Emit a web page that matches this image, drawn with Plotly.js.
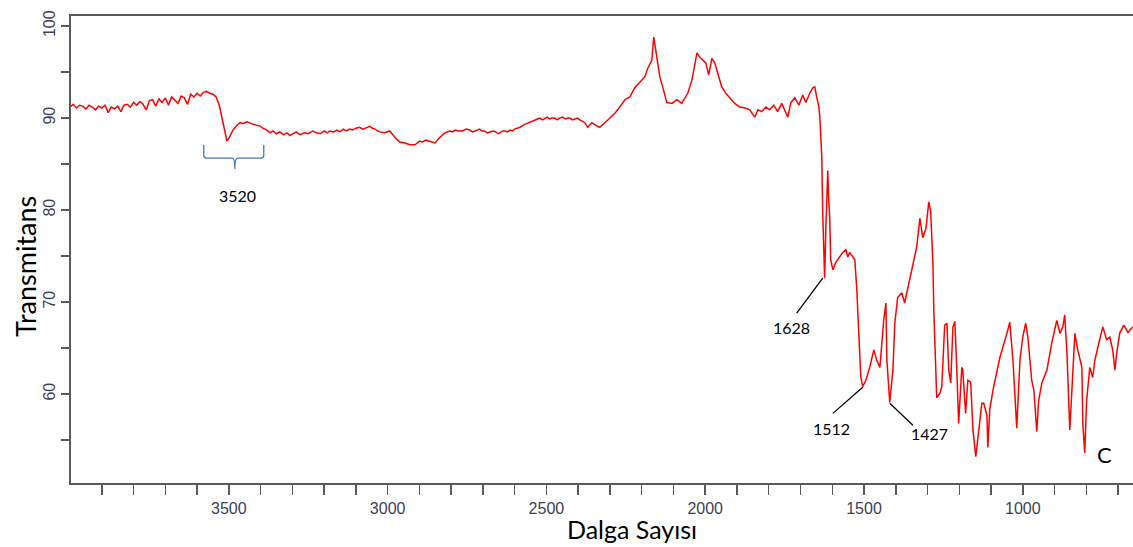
<!DOCTYPE html>
<html>
<head>
<meta charset="utf-8">
<script src="https://cdn.plot.ly/plotly-3.0.1.min.js"></script>
<style>html,body{margin:0;padding:0;background:#fff;}#chart{width:1133px;height:547px;}</style>
</head>
<body>
<div id="chart"></div>
<script>
// Wavenumber (cm-1)
const wavenumber = [
4000,3990,3980,3970,3960,3950,3940,3930,3920,3910,3900,3890,3880,3870,3860,3850,3840,3830,3820,3810,
3800,3790,3780,3770,3760,3750,3740,3730,3720,3710,3700,3690,3680,3670,3660,3650,3640,3630,3620,3610,
3600,3590,3580,3570,3560,3550,3540,3530,3520,3513,3506,3500,3495,3487,3475,3465,3455,3443,3430,3412,
3400,3393,3380,3370,3361,3350,3340,3328,3317,3308,3300,3288,3276,3262,3250,3236,3223,3212,3200,3190,
3182,3170,3160,3150,3140,3130,3120,3110,3100,3088,3078,3070,3056,3048,3040,3025,3009,2993,2977,2962,
2946,2930,2914,2899,2890,2880,2867,2851,2836,2820,2805,2795,2788,2776,2765,2752,2741,2733,2725,2717,
2710,2703,2695,2686,2678,2668,2660,2652,2646,2638,2630,2622,2615,2607,2600,2592,2583,2570,2552,2545,
2535,2528,2521,2512,2505,2497,2490,2482,2475,2466,2458,2450,2440,2433,2426,2418,2410,2403,2395,2379,
2370,2357,2344,2332,2316,2300,2285,2269,2253,2237,2222,2206,2190,2181,2175,2168,2162,2156,2150,
2143,2134,2121,2105,2089,2074,2055,2042,2033,2026,2017,2008,1998,1989,1979,1970,1960,1948,1935,1923,
1907,1891,1875,1860,1844,1834,1822,1809,1797,1784,1772,1759,1746,1740,1730,1718,1705,1693,1683,1671,
1661,1655,1649,1642,1639,1633,1630,1627,1624,1620,1617,1614,1611,1608,1605,1598,1589,1576,1567,1557,
1551,1545,1535,1529,1523,1516,1510,1504,1494,1482,1469,1460,1450,1438,1431,1428,1422,1419,1409,1403,
1394,1381,1372,1356,1334,1324,1315,1305,1296,1290,1283,1280,1274,1271,1261,1255,1246,1239,1233,1227,
1220,1214,1208,1202,1192,1189,1180,1173,1164,1157,1148,1142,1129,1123,1113,1110,1104,1094,1072,1050,
1041,1031,1019,1009,1000,991,984,972,965,956,950,940,924,909,899,893,883,874,868,861,
852,843,836,827,814,811,805,799,789,780,773,758,748,736,726,717,710,704,695,682,
669,654
];
// Transmittance (%)
const transmittance = [
91.2,91.5,91.1,91.4,91.3,91.0,91.4,91.2,90.9,91.3,91.1,91.4,90.6,91.2,91.0,91.3,90.7,91.4,91.5,91.2,
91.7,91.4,91.8,91.5,90.9,91.9,92.0,91.3,92.1,91.7,92.2,91.4,92.3,92.0,91.6,92.4,92.2,91.5,92.6,92.3,
92.7,92.4,92.8,92.9,92.7,92.6,92.3,91.4,89.9,88.5,87.5,87.8,88.2,88.7,89.2,89.5,89.4,89.6,89.4,89.2,
89.1,88.9,88.7,88.4,88.6,88.3,88.5,88.2,88.4,88.1,88.3,88.5,88.2,88.4,88.3,88.6,88.4,88.3,88.6,88.4,
88.6,88.5,88.7,88.5,88.8,88.6,88.8,88.7,88.9,89.0,88.8,88.9,89.1,88.9,88.8,88.5,88.4,88.6,87.9,87.4,
87.3,87.1,87.1,87.5,87.4,87.6,87.5,87.3,87.9,88.4,88.6,88.5,88.7,88.6,88.6,88.8,88.7,88.5,88.6,88.7,
88.8,88.6,88.6,88.4,88.5,88.6,88.5,88.3,88.4,88.6,88.6,88.5,88.7,88.6,88.8,88.9,89.0,89.3,89.6,89.7,
89.8,89.9,90.0,89.8,89.9,90.1,89.9,90.0,90.0,89.8,90.0,90.1,89.9,90.0,90.0,89.8,89.9,90.0,89.8,89.5,
89.0,89.5,89.2,89.0,89.5,90.0,90.5,91.2,92.0,92.3,93.3,93.9,94.5,95.4,95.8,96.3,98.8,97.4,96.0,
94.5,93.4,91.7,91.6,92.0,91.6,92.7,94.1,96.0,97.1,96.6,96.3,96.0,94.7,96.5,96.0,94.9,93.4,92.7,92.2,
91.6,91.2,91.1,90.9,90.1,90.9,90.7,91.2,90.9,91.4,90.7,91.6,90.5,90.1,91.7,92.2,91.4,92.5,91.7,92.7,
93.3,93.4,92.3,91.2,90.1,85.8,79.7,74.6,72.6,78.2,80.8,84.3,81.1,79.2,74.6,73.5,74.3,74.9,75.4,75.7,
74.9,75.4,74.9,74.6,71.6,66.2,61.8,60.8,61.5,62.9,64.8,63.7,62.9,68.0,69.9,63.7,59.7,59.1,62.6,67.7,
70.5,71.0,69.9,72.4,76.0,79.1,77.0,78.0,80.9,79.8,74.2,68.8,63.4,59.6,60.1,60.8,67.5,67.7,62.6,61.2,
67.3,67.9,62.9,56.8,62.9,62.6,57.9,61.5,61.3,56.1,53.2,55.0,59.0,59.0,57.7,54.2,58.3,60.4,64.0,66.6,
67.8,63.7,56.3,63.7,66.2,67.7,66.2,61.5,60.4,55.9,59.3,61.2,62.6,65.5,67.2,68.0,66.6,67.3,68.6,64.5,
56.1,62.9,66.6,64.8,62.9,56.8,53.6,59.3,62.9,61.8,63.7,65.9,67.3,65.9,66.2,64.8,62.6,64.5,66.6,67.5,
66.7,67.3
];

const xTickStep = 500;
const yTickStep = 10;
const xTitle = "Dalga Sayısı";
const yTitle = "Transmitans";

// Peak labels: [text, textX, textY, lineX0, lineY0, lineX1, lineY1]
const peakLabels = [
  ["1628", 1727, 67.2, 1712, 68.8, 1630, 72.6],
  ["1512", 1601, 56.3, 1598, 57.9, 1504, 60.75],
  ["1427", 1293, 55.7, 1419, 59.0, 1346, 56.6]
];
const braceLabel = {text: "3520", x: 3472, y: 81.6, left: 3579, right: 3390, mid: 3481, top: 87.07, bar: 85.65, tip: 84.46};
const sampleLabel = {text: "C", x: 742, y: 53.4};

const labelFont = {family: "Lato, 'Open Sans', sans-serif", size: 16, color: "#000"};
const axisColor = "#5a5a5a";
const tickFont = {family: "'Liberation Sans', Arial, sans-serif", size: 16, color: "#3e4058"};

const annotations = [];
const shapes = [];
peakLabels.forEach(p => {
  annotations.push({x: p[1], y: p[2], xref: "x", yref: "y", text: p[0], showarrow: false, font: labelFont});
  shapes.push({type: "line", xref: "x", yref: "y", x0: p[3], y0: p[4], x1: p[5], y1: p[6], line: {color: "#000", width: 1.3}});
});
annotations.push({x: braceLabel.x, y: braceLabel.y, xref: "x", yref: "y", text: braceLabel.text, showarrow: false, font: labelFont});
const b = braceLabel;
const r = 0.3;
shapes.push({
  type: "path", xref: "x", yref: "y",
  path: `M ${b.left},${b.top} L ${b.left},${b.bar + r} Q ${b.left},${b.bar} ${b.left - 8},${b.bar} L ${b.mid + 8},${b.bar} Q ${b.mid},${b.bar} ${b.mid},${b.tip} Q ${b.mid},${b.bar} ${b.mid - 8},${b.bar} L ${b.right + 8},${b.bar} Q ${b.right},${b.bar} ${b.right},${b.bar + r} L ${b.right},${b.top}`,
  line: {color: "#4a72c4", width: 1.3}
});
annotations.push({x: sampleLabel.x, y: sampleLabel.y, xref: "x", yref: "y", text: sampleLabel.text, showarrow: false,
  font: {family: "Lato, 'Open Sans', sans-serif", size: 22, color: "#000"}});
annotations.push({x: 0.528, y: -0.0985, xref: "paper", yref: "paper", text: xTitle, showarrow: false,
  font: {family: "Lato, 'Open Sans', sans-serif", size: 25, color: "#000"}, yanchor: "middle", borderpad: 0});
annotations.push({x: -0.0433, y: 0.4625, xref: "paper", yref: "paper", text: yTitle, showarrow: false, textangle: -90,
  font: {family: "Lato, 'Open Sans', sans-serif", size: 27, color: "#000"}, xanchor: "center"});

const trace = {
  x: wavenumber, y: transmittance, type: "scatter", mode: "lines",
  line: {color: "#ff0000", width: 1.5}, hoverinfo: "skip"
};

const layout = {
  width: 1133, height: 547,
  margin: {l: 71, r: 0, t: 16, b: 64},
  paper_bgcolor: "#fff", plot_bgcolor: "#fff",
  showlegend: false,
  xaxis: {
    range: [3997, 653], showgrid: false, zeroline: false,
    showline: true, linecolor: axisColor, linewidth: 2, mirror: true,
    ticks: "outside", ticklen: 10, tickwidth: 1.5, tickcolor: axisColor,
    tick0: 0, dtick: xTickStep, tickfont: tickFont,
    minor: {dtick: 100, ticks: "outside", ticklen: 10, tickwidth: 1.5, tickcolor: axisColor, showgrid: false}
  },
  yaxis: {
    range: [50.33, 101.1], showgrid: false, zeroline: false,
    showline: true, linecolor: axisColor, linewidth: 2,
    ticks: "outside", ticklen: 8, tickwidth: 1.5, tickcolor: axisColor,
    tick0: 0, dtick: yTickStep, tickangle: -90, tickfont: tickFont,
    minor: {dtick: 5, ticks: "outside", ticklen: 8, tickwidth: 1.5, tickcolor: axisColor, showgrid: false}
  },
  annotations: annotations,
  shapes: shapes
};

Plotly.newPlot("chart", [trace], layout, {staticPlot: true, displayModeBar: false});
</script>
</body>
</html>
